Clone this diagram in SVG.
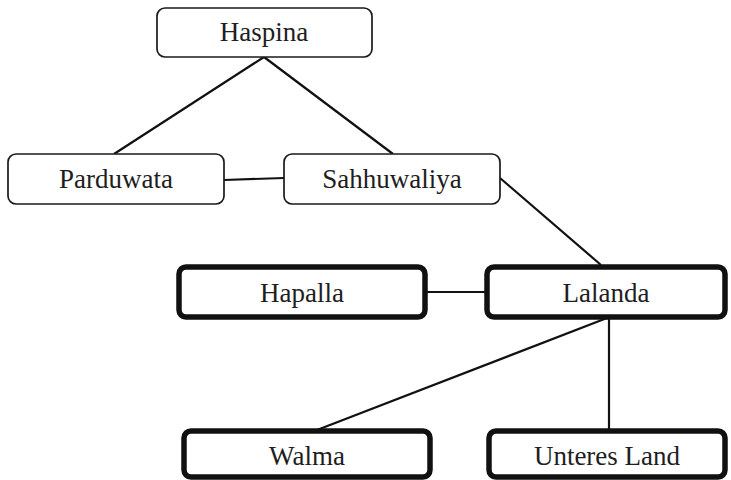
<svg xmlns="http://www.w3.org/2000/svg" width="731" height="480" viewBox="0 0 731 480">
  <style>
    .box { fill: #ffffff; stroke: #1a1a1a; stroke-width: 1.7; }
    .bold { fill: #ffffff; stroke: #111111; stroke-width: 5.5; }
    .lbl { font-family: "Liberation Serif", "Times New Roman", serif; font-size: 27px; fill: #1e1e1e; text-anchor: middle; }
    .edge { stroke: #111111; stroke-width: 2.2; fill: none; }
  </style>
  <rect width="731" height="480" fill="#ffffff"/>

  <g id="connectors">
    <line class="edge" x1="264" y1="57" x2="114" y2="154"/>
    <line class="edge" x1="264" y1="57" x2="393" y2="154"/>
    <line class="edge" x1="224" y1="180" x2="284" y2="178"/>
    <line class="edge" x1="500" y1="178" x2="601" y2="265"/>
    <line class="edge" x1="425" y1="292" x2="486" y2="292"/>
    <line class="edge" x1="607" y1="318" x2="317" y2="430"/>
    <line class="edge" x1="609" y1="318" x2="609" y2="430"/>
  </g>

  <g id="haspina">
    <rect class="box" x="157" y="8" width="215" height="49" rx="8"/>
    <text class="lbl" x="264" y="41">Haspina</text>
  </g>
  <g id="parduwata">
    <rect class="box" x="8" y="154" width="216" height="50" rx="8"/>
    <text class="lbl" x="116" y="188">Parduwata</text>
  </g>
  <g id="sahhuwaliya">
    <rect class="box" x="284" y="154" width="216" height="50" rx="8"/>
    <text class="lbl" x="392" y="188">Sahhuwaliya</text>
  </g>
  <g id="hapalla">
    <rect class="bold" x="179" y="267" width="246" height="50" rx="7"/>
    <text class="lbl" x="302" y="302">Hapalla</text>
  </g>
  <g id="lalanda">
    <rect class="bold" x="487" y="267" width="238" height="50" rx="7"/>
    <text class="lbl" x="606" y="302">Lalanda</text>
  </g>
  <g id="walma">
    <rect class="bold" x="184" y="431" width="246" height="46" rx="7"/>
    <text class="lbl" x="307" y="465">Walma</text>
  </g>
  <g id="unteres-land">
    <rect class="bold" x="489" y="431" width="236" height="46" rx="7"/>
    <text class="lbl" x="607" y="465">Unteres Land</text>
  </g>
</svg>
